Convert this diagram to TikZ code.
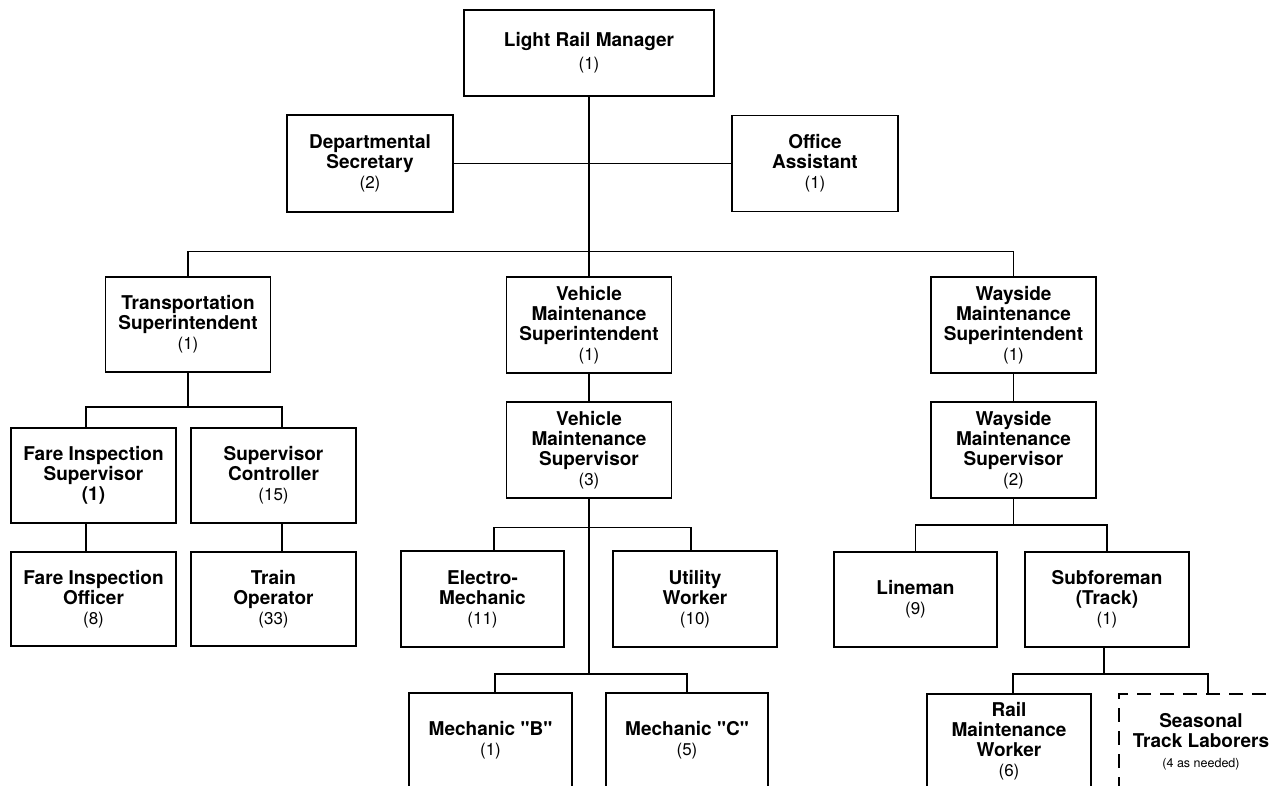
\documentclass[tikz,border=0pt]{standalone}
\usepackage{fontspec}
\setmainfont{TeX Gyre Heros}
\usetikzlibrary{calc}
\newcommand\nbr[1]{{\fontsize{17}{20}\selectfont\mdseries #1}}
\newcommand\smallnbr[1]{{\fontsize{12.5}{20}\selectfont\mdseries #1}}
\begin{document}
\begin{tikzpicture}[x=1pt,y=-1pt,
  box/.style={draw=black,line width=1.6pt,align=center,inner sep=0pt,
    minimum width=165pt,minimum height=95pt,
    font=\fontsize{19}{20}\selectfont\bfseries},
  dashbox/.style={box,dash pattern=on 14pt off 9pt},
  conn/.style={line width=1.4pt},
  thinconn/.style={line width=0.9pt}]
\fill[white] (0,0) rectangle (1274,785);
\useasboundingbox (0,0) rectangle (1274,785);
\clip (0,0) rectangle (1274,785);

% level 0
\node[box,minimum width=250pt,minimum height=86pt] (lrm) at (589,53) {Light Rail Manager\\[3pt]\nbr{(1)}};
% staff
\node[box,minimum width=166pt,minimum height=97pt] (dept) at (370,163.5) {Departmental\\Secretary\\\nbr{(2)}};
\node[box,minimum width=166pt,minimum height=96pt] (office) at (815,163.5) {Office\\Assistant\\\nbr{(1)}};
% level 1
\node[box] (trans) at (188,324.5) {Transportation\\Superintendent\\\nbr{(1)}};
\node[box,minimum height=96pt] (vmsupt) at (589,325) {Vehicle\\Maintenance\\Superintendent\\\nbr{(1)}};
\node[box,minimum height=96pt] (wmsupt) at (1013.5,325) {Wayside\\Maintenance\\Superintendent\\\nbr{(1)}};
% transportation branch
\node[box] (fis) at (93.5,475.5) {Fare Inspection\\Supervisor\\(1)};
\node[box] (sc) at (273.5,475.5) {Supervisor\\Controller\\\nbr{(15)}};
\node[box,minimum height=94pt] (fio) at (93.5,599) {Fare Inspection\\Officer\\\nbr{(8)}};
\node[box,minimum height=94pt] (to) at (273.5,599) {Train\\Operator\\\nbr{(33)}};
% vehicle branch
\node[box,minimum height=96pt] (vmsup) at (589,450) {Vehicle\\Maintenance\\Supervisor\\\nbr{(3)}};
\node[box,minimum width=163pt,minimum height=96pt] (em) at (482.5,599) {Electro-\\Mechanic\\\nbr{(11)}};
\node[box,minimum width=164pt,minimum height=96pt] (uw) at (695,599) {Utility\\Worker\\\nbr{(10)}};
\node[box,minimum width=163pt] (mb) at (490.5,740.5) {Mechanic \textquotedbl B\textquotedbl\\\nbr{(1)}};
\node[box,minimum width=162pt] (mc) at (687,740.5) {Mechanic \textquotedbl C\textquotedbl\\\nbr{(5)}};
% wayside branch
\node[box,minimum height=96pt] (wmsup) at (1013.5,450) {Wayside\\Maintenance\\Supervisor\\\nbr{(2)}};
\node[box,minimum width=163pt] (line) at (915.5,599.5) {Lineman\\\nbr{(9)}};
\node[box,minimum width=164pt] (sub) at (1107,599.5) {Subforeman\\(Track)\\\nbr{(1)}};
\node[box,minimum width=164pt] (rmw) at (1009,741.5) {Rail\\Maintenance\\Worker\\\nbr{(6)}};
\node[dashbox,minimum width=164pt] (seas) at (1201,741.5) {Seasonal\\Track Laborers\\\smallnbr{(4 as needed)}};

% connectors
\draw[conn] (lrm.south) -- (vmsupt.north);
\draw[thinconn] (dept.east) -- (office.west);
\draw[conn] (trans.north) -- ++(0,-25) -| (wmsupt.north);

\draw[conn] (trans.south) -- ++(0,34) coordinate (tb);
\draw[conn] ([xshift=-7.5pt]fis.north) |- (tb) -| ([xshift=8.5pt]sc.north);
\draw[conn] ([xshift=-7.5pt]fis.south) -- ([xshift=-7.5pt]fio.north);
\draw[conn] ([xshift=8.5pt]sc.south) -- ([xshift=8.5pt]to.north);

\draw[conn] (vmsupt.south) -- (vmsup.north);
\draw[conn] (vmsup.south) -- ++(0,175) coordinate (mbus);
\draw[conn] ([xshift=11.5pt]em.north) -- ++(0,-23) -| ([xshift=-4pt]uw.north);
\draw[conn] ([xshift=4.5pt]mb.north) |- (mbus) -| (mc.north);

\draw[conn] (wmsupt.south) -- (wmsup.north);
\draw[conn] (wmsup.south) -- ++(0,26) coordinate (wbus);
\draw[conn] (line.north) |- (wbus) -| (sub.north);
\draw[conn] ([xshift=-3pt]sub.south) -- ++(0,26) coordinate (sbus);
\draw[conn] ([xshift=4pt]rmw.north) |- (sbus) -| ([xshift=7pt]seas.north);
\end{tikzpicture}
\end{document}
